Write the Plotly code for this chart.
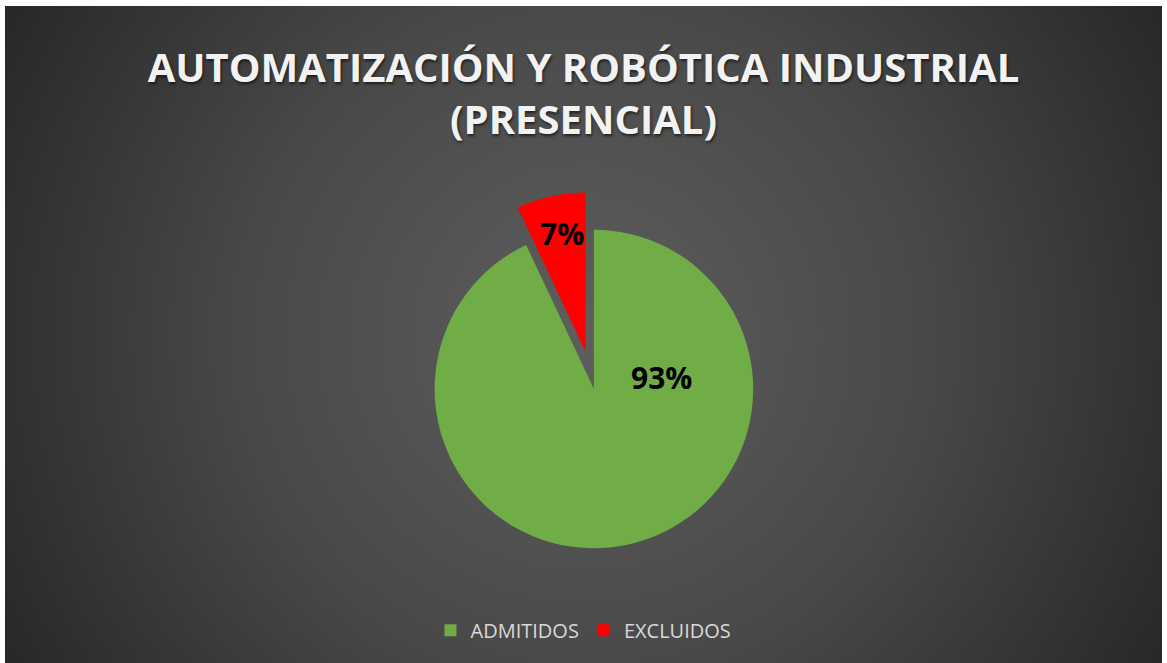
import base64
import plotly.graph_objects as go

categories = ["ADMITIDOS", "EXCLUIDOS"]
values = [93, 7]
colors = ["#70ad47", "#ff0000"]
pulls = [0, 0.24]
title_lines = ["AUTOMATIZACIÓN Y ROBÓTICA INDUSTRIAL", "(PRESENCIAL)"]
# data-label placement (paper coordinates), as in the source chart
label_pos = [(0.5678, 0.4338), (0.4814, 0.653)]

W, H = 1167, 663
ML, MR, MT, MB = 5, 5, 6, 0
PW, PH = W - ML - MR, H - MT - MB

svg = f'''<svg xmlns="http://www.w3.org/2000/svg" width="{PW}" height="{PH}" viewBox="0 0 {PW} {PH}" preserveAspectRatio="none">
<defs><radialGradient id="g" gradientUnits="userSpaceOnUse" cx="580" cy="330" r="690">
<stop offset="0" stop-color="#5e5e5e"/><stop offset="0.5" stop-color="#484848"/><stop offset="1" stop-color="#252525"/>
</radialGradient></defs><rect width="{PW}" height="{PH}" fill="url(#g)"/></svg>'''
bg_uri = "data:image/svg+xml;base64," + base64.b64encode(svg.encode()).decode()

total = sum(values)
pct_text = [f"{round(100 * v / total)}%" for v in values]

fig = go.Figure(go.Pie(
    labels=categories,
    values=values,
    marker=dict(colors=colors, line=dict(width=0)),
    pull=pulls,
    sort=False,
    direction="clockwise",
    rotation=0,
    textinfo="none",
    hoverinfo="label+percent",
    domain=dict(x=[0.309, 0.709], y=[0.1164, 0.7176]),
))

annotations = [
    dict(text=t, x=p[0], y=p[1], xref="paper", yref="paper",
         xanchor="center", yanchor="middle", showarrow=False,
         font=dict(family="Open Sans", size=30, color="#000000", weight="bold"))
    for t, p in zip(pct_text, label_pos)
]

fig.update_layout(
    width=W, height=H,
    margin=dict(l=ML, r=MR, t=MT, b=MB),
    paper_bgcolor="#ffffff",
    title=dict(
        text="<br>".join(title_lines),
        x=0.5, xanchor="center",
        y=1 - 82 / H, yanchor="top", yref="container",
        font=dict(family="Open Sans", size=40, color="#f2f2f2", weight="bold",
                  shadow="1px 2px 3px rgba(0,0,0,0.6)"),
    ),
    legend=dict(
        orientation="h", x=0.5, xanchor="center", y=0.05, yanchor="middle",
        font=dict(family="Open Sans", size=20, color="#d9d9d9"),
        bgcolor="rgba(0,0,0,0)",
    ),
    annotations=annotations,
    images=[dict(source=bg_uri, xref="paper", yref="paper", x=0, y=1,
                 sizex=1, sizey=1, xanchor="left", yanchor="top",
                 sizing="stretch", layer="below")],
)

fig.write_html("out.html", config={"displayModeBar": False},
               post_script="document.body.style.margin='0';")
